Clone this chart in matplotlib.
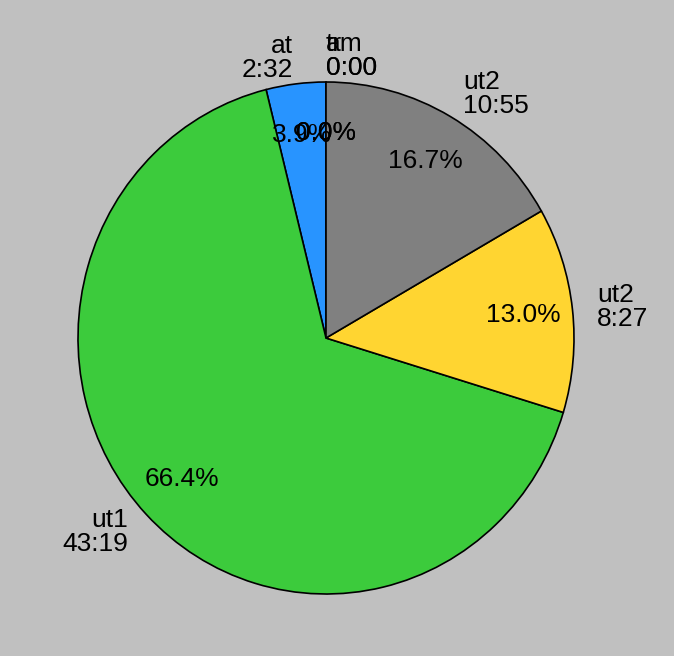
import matplotlib.pyplot as plt

# slice data, counter-clockwise from the top
names = ["tr", "am", "at", "ut1", "ut2", "ut2"]
times = ["0:00", "0:00", "2:32", "43:19", "8:27", "10:55"]
colors = ["#ff0000", "#aa00aa", "#2894ff", "#3ccb3c", "#ffd531", "#808080"]


def to_seconds(t):
    m, s = t.split(":")
    return int(m) * 60 + int(s)


seconds = [to_seconds(t) for t in times]
labels = [n + "\n" + t for n, t in zip(names, times)]

plt.rcParams["font.family"] = ["Liberation Sans", "DejaVu Sans"]

fig = plt.figure(figsize=(6.74, 6.56), dpi=100, facecolor="#c0c0c0")
ax = fig.add_axes([0, 0, 1, 1])
ax.set_facecolor("#c0c0c0")

wedges, texts, autotexts = ax.pie(
    seconds,
    labels=labels,
    colors=colors,
    startangle=90,
    counterclock=True,
    autopct="%1.1f%%",
    pctdistance=0.8,
    labeldistance=1.1,
    wedgeprops=dict(edgecolor="black", linewidth=1.2),
    textprops=dict(fontsize=19, color="black", linespacing=1.0),
)

# zero-size slices sit exactly at the top: their labels hang to the right
for i, s in enumerate(seconds):
    if s == 0:
        texts[i].set_ha("left")

# the original pie is slightly taller than wide
ax.set_aspect("auto")
ax.set_xlim(-326 / 248, 348 / 248)
ax.set_ylim(-318 / 256, 338 / 256)
ax.axis("off")

fig.savefig("out.png", dpi=100, facecolor=fig.get_facecolor())
